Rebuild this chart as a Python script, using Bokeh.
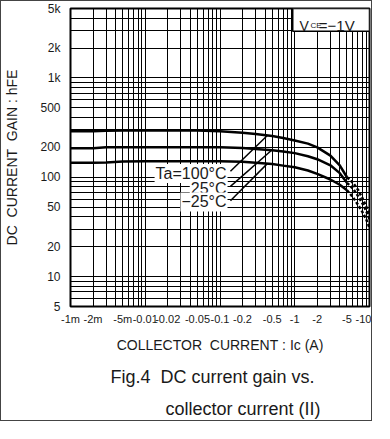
import numpy as np
from bokeh.plotting import figure
from bokeh.models import Range1d, FixedTicker, Label, BoxAnnotation, Title
from bokeh.embed import file_html
from bokeh.resources import INLINE

# ---------------- data ----------------
current = [0.001, 0.002, 0.003, 0.005, 0.01, 0.02, 0.05, 0.1, 0.2, 0.3, 0.5, 0.7, 1, 1.5, 2, 3, 4, 5]
gain_100 = [290, 290, 294, 295, 295, 295, 295, 290, 280, 272, 260, 249, 234, 218, 200, 165, 132, 100]
gain_25 = [196, 196, 200, 201, 201, 201, 201, 200, 197, 193, 187, 182, 175, 163, 152, 132, 110, 88]
gain_m25 = [140, 140, 141, 144, 145, 145, 145, 145, 143, 140, 136, 131, 126, 117, 108, 95, 84, 74]

tail_current = [5, 6, 7, 8, 9, 10]
tail_100 = [100, 88, 75, 62, 51, 42]
tail_25 = [88, 77, 65, 55, 46, 38]
tail_m25 = [74, 63, 53, 45, 38, 31]

series_names = ["Ta=100°C", "25°C", "−25°C"]

x_major = [0.001, 0.002, 0.005, 0.01, 0.02, 0.05, 0.1, 0.2, 0.5, 1, 2, 5, 10]
x_labels = ["-1m", "-2m", "-5m", "-0.01", "-0.02", "-0.05", "-0.1", "-0.2", "-0.5", "-1", "-2", "-5", "-10"]
x_minor = [0.003, 0.004, 0.006, 0.007, 0.008, 0.009,
           0.03, 0.04, 0.06, 0.07, 0.08, 0.09,
           0.3, 0.4, 0.6, 0.7, 0.8, 0.9,
           3, 4, 6, 7, 8, 9]
y_major = [5, 10, 20, 50, 100, 200, 500, 1000, 2000, 5000]
y_labels = ["5", "10", "20", "50", "100", "200", "500", "1k", "2k", "5k"]
y_minor = [6, 7, 8, 9, 30, 40, 60, 70, 80, 90, 300, 400, 600, 700, 800, 900, 3000, 4000]

# annotation placement (data coordinates)
label_x = 0.126
label_y = [109, 77, 56.5]
leader_start_x = 0.138
leader_start_y = [115, 81, 58]
leader_end_x = [0.43, 0.49, 0.43]

FONT = "Liberation Sans"
INK = "#1a1a1a"
NB = "\u00a0"

p = figure(width=372, height=421, x_axis_type="log", y_axis_type="log",
           x_range=Range1d(0.001, 10), y_range=Range1d(5, 5000),
           output_backend="svg", toolbar_location=None,
           min_border_left=53, min_border_right=4, min_border_top=7, min_border_bottom=116)
p.styles = {"border": "1px solid #444"}

p.outline_line_color = "black"
p.outline_line_width = 2
p.background_fill_color = "white"
p.border_fill_color = "white"

for ax in (p.xaxis[0], p.yaxis[0]):
    ax.axis_line_color = None
    ax.major_tick_line_color = None
    ax.minor_tick_line_color = None
    ax.major_label_text_font = FONT
    ax.major_label_text_color = INK
    ax.axis_label_text_font = FONT
    ax.axis_label_text_font_style = "normal"
    ax.axis_label_text_color = INK

p.xaxis.ticker = FixedTicker(ticks=x_major, minor_ticks=x_minor)
p.yaxis.ticker = FixedTicker(ticks=y_major, minor_ticks=y_minor)
p.xaxis.major_label_overrides = dict(zip(x_major, x_labels))
p.yaxis.major_label_overrides = dict(zip(y_major, y_labels))
p.xaxis.major_label_text_font_size = "11px"
p.yaxis.major_label_text_font_size = "12px"
p.xaxis.major_label_standoff = 0
p.yaxis.major_label_standoff = 4
p.xaxis.axis_label = f"COLLECTOR{NB}{NB}CURRENT{NB}:{NB}Ic{NB}(A)"
p.yaxis.axis_label = f"DC{NB}{NB}CURRENT{NB}{NB}GAIN{NB}:{NB}hFE"
p.xaxis.axis_label_text_font_size = "14px"
p.yaxis.axis_label_text_font_size = "14px"
p.xaxis.axis_label_standoff = 9
p.yaxis.axis_label_standoff = 17

for g in (p.xgrid[0], p.ygrid[0]):
    g.grid_line_color = "black"
    g.grid_line_width = 1
    g.grid_line_alpha = 1
    g.minor_grid_line_color = "black"
    g.minor_grid_line_width = 1
    g.minor_grid_line_alpha = 1

# curves
for gains, tails in ((gain_100, tail_100), (gain_25, tail_25), (gain_m25, tail_m25)):
    p.line(current, gains, line_color="black", line_width=2.5)
    p.line(tail_current, tails, line_color="black", line_width=2.5, line_dash="3 2")

# temperature labels with leader lines
curves = (gain_100, gain_25, gain_m25)
lx0, ly0, lx1, ly1 = [], [], [], []
for i, g in enumerate(curves):
    end_y = 10 ** np.interp(np.log10(leader_end_x[i]), np.log10(current), np.log10(g))
    lx0.append(leader_start_x)
    ly0.append(leader_start_y[i])
    lx1.append(leader_end_x[i])
    ly1.append(end_y)
    p.add_layout(Label(x=label_x, y=label_y[i], text=series_names[i],
                       text_align="right", text_baseline="middle",
                       text_font=FONT, text_font_size="16px", text_color=INK,
                       background_fill_color="white", padding=1))
p.segment(lx0, ly0, lx1, ly1, line_color="black", line_width=1.5)

# VCE box
p.add_layout(BoxAnnotation(left=0.94, bottom=2950, fill_color="white", fill_alpha=1,
                           line_color="black", line_width=1.5, line_alpha=1))
p.add_layout(Label(x=1.16, y=3350, text="V", text_font=FONT, text_font_size="14px",
                   text_color=INK, text_baseline="alphabetic"))
p.add_layout(Label(x=1.62, y=3350, text="CE", text_font=FONT, text_font_size="8px",
                   text_color=INK, text_baseline="alphabetic"))
p.add_layout(Label(x=2.1, y=3350, text="=−1V", text_font=FONT, text_font_size="15px",
                   text_color=INK, text_baseline="alphabetic"))

# caption (stacked below the x axis)
cap1 = Title(text=f"Fig.4{NB}{NB}DC current gain vs.", align="left", offset=40,
             text_font=FONT, text_font_size="18px", text_font_style="normal",
             text_color=INK, standoff=19)
cap2 = Title(text="collector current (II)", align="left", offset=95,
             text_font=FONT, text_font_size="18px", text_font_style="normal",
             text_color=INK, standoff=0)
p.add_layout(cap1, "below")
p.add_layout(cap2, "below")

open("out.html", "w").write(file_html(p, INLINE))
